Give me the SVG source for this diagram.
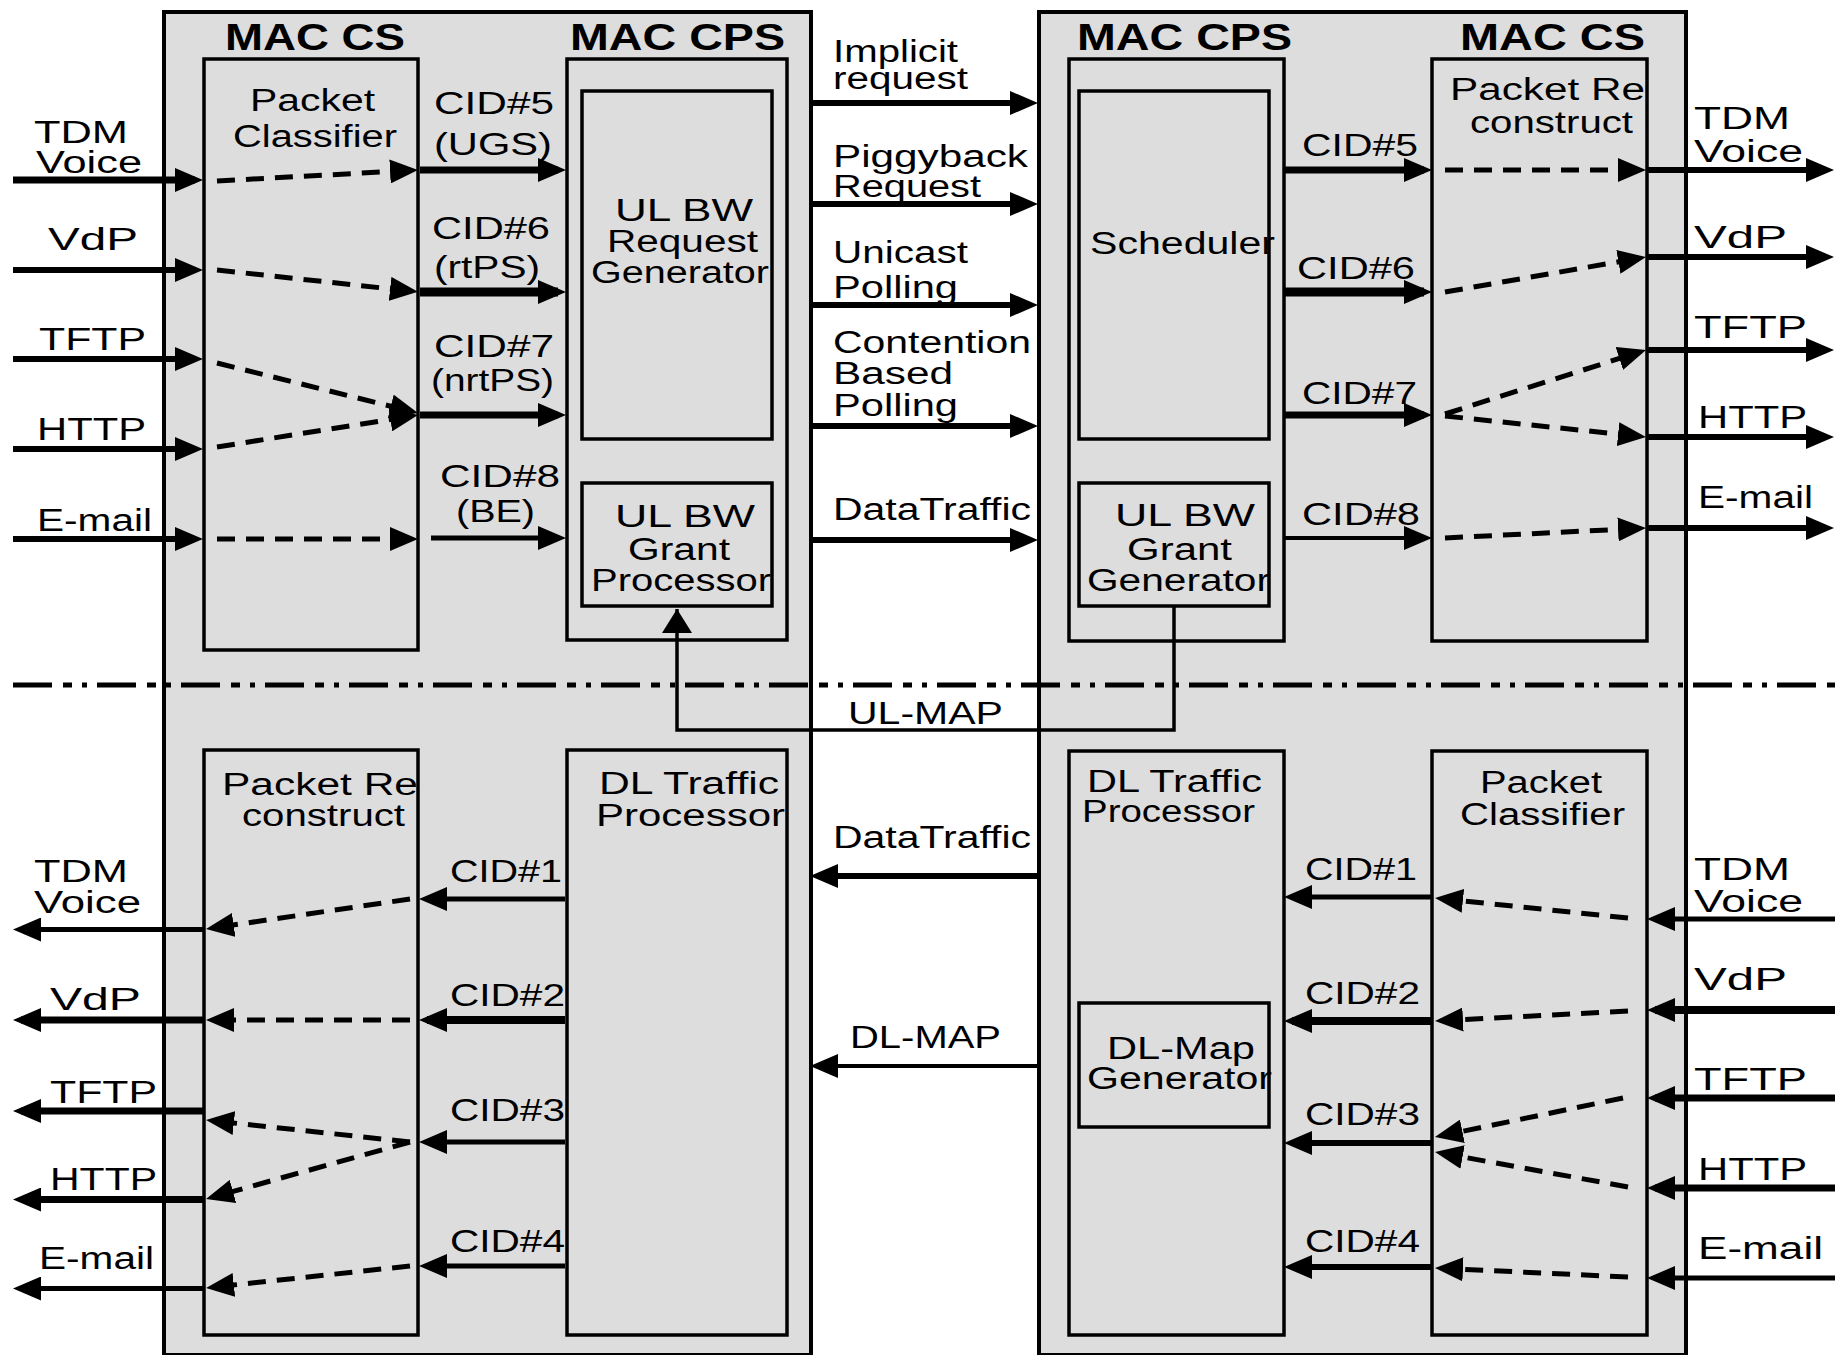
<svg xmlns="http://www.w3.org/2000/svg" width="1835" height="1355" viewBox="0 0 1835 1355">
<defs>
<style>
.box{fill:#dddddd;stroke:#000;stroke-width:3.5}
.outer{fill:#dddddd;stroke:#000;stroke-width:4}
.t{font-family:"Liberation Sans",Arial,sans-serif;font-size:31px;fill:#000}
.h{font-family:"Liberation Sans",Arial,sans-serif;font-size:36px;font-weight:bold;fill:#000}
.s{stroke:#000;fill:none}
.d{stroke:#000;fill:none;stroke-width:5;stroke-dasharray:18 11}
</style>
<marker id="ah" viewBox="0 0 28 24" refX="20" refY="12" markerWidth="28" markerHeight="24" markerUnits="userSpaceOnUse" orient="auto">
<path d="M0,0 L28,12 L0,24 z" fill="#000"/>
</marker>
<marker id="ahu" viewBox="0 0 24 30" refX="24" refY="15" markerWidth="24" markerHeight="30" markerUnits="userSpaceOnUse" orient="auto">
<path d="M0,0 L24,15 L0,30 z" fill="#000"/>
</marker>
</defs>
<rect width="1835" height="1355" fill="#fff"/>

<g id="left-station">
<rect class="outer" x="164" y="12" width="647" height="1343"/>
</g>
<g id="right-station">
<rect class="outer" x="1039" y="12" width="647" height="1343"/>
</g>

<g id="left-mac-cs-title"><text class="h" x="225" y="50" textLength="180" lengthAdjust="spacingAndGlyphs">MAC CS</text></g>
<g id="left-mac-cps-title"><text class="h" x="570" y="50" textLength="215" lengthAdjust="spacingAndGlyphs">MAC CPS</text></g>
<g id="right-mac-cps-title"><text class="h" x="1077" y="50" textLength="215" lengthAdjust="spacingAndGlyphs">MAC CPS</text></g>
<g id="right-mac-cs-title"><text class="h" x="1460" y="50" textLength="185" lengthAdjust="spacingAndGlyphs">MAC CS</text></g>

<g id="left-packet-classifier">
<rect class="box" x="204" y="59" width="214" height="591"/>
<text class="t" x="250" y="111" textLength="125" lengthAdjust="spacingAndGlyphs">Packet</text>
<text class="t" x="233" y="147" textLength="164" lengthAdjust="spacingAndGlyphs">Classifier</text>
</g>
<g id="left-mac-cps">
<rect class="box" x="567" y="59" width="220" height="581"/>
</g>
<g id="ul-bw-request-generator">
<rect class="box" x="582" y="91" width="190" height="348"/>
<text class="t" x="615" y="221" textLength="138" lengthAdjust="spacingAndGlyphs">UL BW</text>
<text class="t" x="607" y="252" textLength="151" lengthAdjust="spacingAndGlyphs">Request</text>
<text class="t" x="591" y="283" textLength="178" lengthAdjust="spacingAndGlyphs">Generator</text>
</g>
<g id="ul-bw-grant-processor">
<rect class="box" x="582" y="483" width="190" height="123"/>
<text class="t" x="615" y="527" textLength="140" lengthAdjust="spacingAndGlyphs">UL BW</text>
<text class="t" x="628" y="560" textLength="102" lengthAdjust="spacingAndGlyphs">Grant</text>
<text class="t" x="591" y="591" textLength="180" lengthAdjust="spacingAndGlyphs">Processor</text>
</g>
<g id="right-mac-cps">
<rect class="box" x="1069" y="59" width="215" height="582"/>
</g>
<g id="scheduler">
<rect class="box" x="1079" y="91" width="190" height="348"/>
<text class="t" x="1090" y="254" textLength="185" lengthAdjust="spacingAndGlyphs">Scheduler</text>
</g>
<g id="ul-bw-grant-generator">
<rect class="box" x="1079" y="483" width="190" height="123"/>
<text class="t" x="1115" y="526" textLength="140" lengthAdjust="spacingAndGlyphs">UL BW</text>
<text class="t" x="1127" y="560" textLength="105" lengthAdjust="spacingAndGlyphs">Grant</text>
<text class="t" x="1087" y="591" textLength="183" lengthAdjust="spacingAndGlyphs">Generator</text>
</g>
<g id="right-packet-reconstruct">
<rect class="box" x="1432" y="59" width="215" height="582"/>
<text class="t" x="1450" y="100" textLength="195" lengthAdjust="spacingAndGlyphs">Packet Re</text>
<text class="t" x="1470" y="133" textLength="163" lengthAdjust="spacingAndGlyphs">construct</text>
</g>

<g id="left-packet-reconstruct">
<rect class="box" x="204" y="750" width="214" height="585"/>
<text class="t" x="222" y="795" textLength="196" lengthAdjust="spacingAndGlyphs">Packet Re</text>
<text class="t" x="242" y="826" textLength="163" lengthAdjust="spacingAndGlyphs">construct</text>
</g>
<g id="left-dl-traffic-processor">
<rect class="box" x="567" y="750" width="220" height="585"/>
<text class="t" x="599" y="794" textLength="180" lengthAdjust="spacingAndGlyphs">DL Traffic</text>
<text class="t" x="596" y="826" textLength="189" lengthAdjust="spacingAndGlyphs">Processor</text>
</g>
<g id="right-dl-traffic-processor">
<rect class="box" x="1069" y="751" width="215" height="584"/>
<text class="t" x="1087" y="792" textLength="175" lengthAdjust="spacingAndGlyphs">DL Traffic</text>
<text class="t" x="1082" y="822" textLength="173" lengthAdjust="spacingAndGlyphs">Processor</text>
</g>
<g id="dl-map-generator">
<rect class="box" x="1079" y="1003" width="190" height="124"/>
<text class="t" x="1107" y="1059" textLength="148" lengthAdjust="spacingAndGlyphs">DL-Map</text>
<text class="t" x="1087" y="1089" textLength="185" lengthAdjust="spacingAndGlyphs">Generator</text>
</g>
<g id="right-packet-classifier">
<rect class="box" x="1432" y="751" width="215" height="584"/>
<text class="t" x="1480" y="793" textLength="122" lengthAdjust="spacingAndGlyphs">Packet</text>
<text class="t" x="1460" y="825" textLength="165" lengthAdjust="spacingAndGlyphs">Classifier</text>
</g>

<g id="connectors">
<line x1="13" y1="685" x2="1835" y2="685" stroke="#000" stroke-width="5" stroke-dasharray="39 11 9 10 5 10"/>
<!-- left top inputs -->
<line class="s" x1="13" y1="180" x2="195" y2="180" stroke-width="7" marker-end="url(#ah)"/>
<line class="s" x1="13" y1="270" x2="195" y2="270" stroke-width="6" marker-end="url(#ah)"/>
<line class="s" x1="13" y1="359" x2="195" y2="359" stroke-width="6" marker-end="url(#ah)"/>
<line class="s" x1="13" y1="449" x2="195" y2="449" stroke-width="6" marker-end="url(#ah)"/>
<line class="s" x1="13" y1="539" x2="195" y2="539" stroke-width="6" marker-end="url(#ah)"/>
<!-- left classifier dashed -->
<line class="d" x1="217" y1="181" x2="410" y2="170.4" marker-end="url(#ah)"/>
<line class="d" x1="217" y1="270" x2="410" y2="291" marker-end="url(#ah)"/>
<line class="d" x1="217" y1="363" x2="410.2" y2="411.1" marker-end="url(#ah)"/>
<line class="d" x1="217" y1="447" x2="410.1" y2="416.3" marker-end="url(#ah)"/>
<line class="d" x1="217" y1="539" x2="410" y2="539" marker-end="url(#ah)"/>
<!-- left CIDs to MAC CPS -->
<line class="s" x1="420" y1="170" x2="558" y2="170" stroke-width="7" marker-end="url(#ah)"/>
<line class="s" x1="420" y1="292" x2="558" y2="292" stroke-width="9" marker-end="url(#ah)"/>
<line class="s" x1="420" y1="415" x2="558" y2="415" stroke-width="7" marker-end="url(#ah)"/>
<line class="s" x1="431" y1="538" x2="558" y2="538" stroke-width="5" marker-end="url(#ah)"/>
<!-- middle uplink -->
<line class="s" x1="812" y1="103" x2="1030" y2="103" stroke-width="6" marker-end="url(#ah)"/>
<line class="s" x1="812" y1="204" x2="1030" y2="204" stroke-width="6" marker-end="url(#ah)"/>
<line class="s" x1="812" y1="305" x2="1030" y2="305" stroke-width="6" marker-end="url(#ah)"/>
<line class="s" x1="812" y1="426" x2="1030" y2="426" stroke-width="6" marker-end="url(#ah)"/>
<line class="s" x1="812" y1="540" x2="1030" y2="540" stroke-width="6" marker-end="url(#ah)"/>
<!-- right CIDs -->
<line class="s" x1="1285" y1="170" x2="1424" y2="170" stroke-width="7" marker-end="url(#ah)"/>
<line class="s" x1="1285" y1="292" x2="1424" y2="292" stroke-width="9" marker-end="url(#ah)"/>
<line class="s" x1="1285" y1="415" x2="1424" y2="415" stroke-width="7" marker-end="url(#ah)"/>
<line class="s" x1="1285" y1="538" x2="1424" y2="538" stroke-width="4" marker-end="url(#ah)"/>
<!-- right reconstruct dashed -->
<line class="d" x1="1445" y1="170" x2="1638" y2="170" marker-end="url(#ah)"/>
<line class="d" x1="1445" y1="292" x2="1638.1" y2="258.4" marker-end="url(#ah)"/>
<line class="d" x1="1445" y1="414" x2="1638.4" y2="352.4" marker-end="url(#ah)"/>
<line class="d" x1="1445" y1="416" x2="1638" y2="436.2" marker-end="url(#ah)"/>
<line class="d" x1="1445" y1="538" x2="1638" y2="528.4" marker-end="url(#ah)"/>
<!-- right top outputs -->
<line class="s" x1="1647" y1="170" x2="1826" y2="170" stroke-width="6" marker-end="url(#ah)"/>
<line class="s" x1="1647" y1="257" x2="1826" y2="257" stroke-width="6" marker-end="url(#ah)"/>
<line class="s" x1="1647" y1="350" x2="1826" y2="350" stroke-width="6" marker-end="url(#ah)"/>
<line class="s" x1="1647" y1="437" x2="1826" y2="437" stroke-width="6" marker-end="url(#ah)"/>
<line class="s" x1="1647" y1="528" x2="1826" y2="528" stroke-width="6" marker-end="url(#ah)"/>
<!-- UL-MAP -->
<polyline class="s" points="1174,606 1174,730 677,730 677,609" stroke-width="3.5" marker-end="url(#ahu)"/>
<!-- left bottom CIDs -->
<line class="s" x1="565" y1="899" x2="427" y2="899" stroke-width="5" marker-end="url(#ah)"/>
<line class="s" x1="565" y1="1020" x2="427" y2="1020" stroke-width="8" marker-end="url(#ah)"/>
<line class="s" x1="565" y1="1142" x2="427" y2="1142" stroke-width="5" marker-end="url(#ah)"/>
<line class="s" x1="565" y1="1266" x2="427" y2="1266" stroke-width="5" marker-end="url(#ah)"/>
<!-- left reconstruct dashed -->
<line class="d" x1="410" y1="899" x2="213.9" y2="927.8" marker-end="url(#ah)"/>
<line class="d" x1="410" y1="1020" x2="214" y2="1020" marker-end="url(#ah)"/>
<line class="d" x1="410" y1="1142" x2="214" y2="1120.9" marker-end="url(#ah)"/>
<line class="d" x1="410" y1="1142" x2="213.7" y2="1196.8" marker-end="url(#ah)"/>
<line class="d" x1="410" y1="1266" x2="214" y2="1287.1" marker-end="url(#ah)"/>
<!-- left bottom outputs -->
<line class="s" x1="203" y1="929.5" x2="21" y2="929.5" stroke-width="5" marker-end="url(#ah)"/>
<line class="s" x1="203" y1="1020" x2="21" y2="1020" stroke-width="7" marker-end="url(#ah)"/>
<line class="s" x1="203" y1="1111" x2="21" y2="1111" stroke-width="7" marker-end="url(#ah)"/>
<line class="s" x1="203" y1="1199.5" x2="21" y2="1199.5" stroke-width="7" marker-end="url(#ah)"/>
<line class="s" x1="203" y1="1288.5" x2="21" y2="1288.5" stroke-width="5" marker-end="url(#ah)"/>
<!-- middle downlink -->
<line class="s" x1="1039" y1="876" x2="818" y2="876" stroke-width="6" marker-end="url(#ah)"/>
<line class="s" x1="1039" y1="1066" x2="818" y2="1066" stroke-width="4" marker-end="url(#ah)"/>
<!-- right bottom inputs -->
<line class="s" x1="1835" y1="919" x2="1655" y2="919" stroke-width="5" marker-end="url(#ah)"/>
<line class="s" x1="1835" y1="1010" x2="1655" y2="1010" stroke-width="8" marker-end="url(#ah)"/>
<line class="s" x1="1835" y1="1098" x2="1655" y2="1098" stroke-width="7" marker-end="url(#ah)"/>
<line class="s" x1="1835" y1="1188" x2="1655" y2="1188" stroke-width="7" marker-end="url(#ah)"/>
<line class="s" x1="1835" y1="1278" x2="1655" y2="1278" stroke-width="5" marker-end="url(#ah)"/>
<!-- right classifier dashed -->
<line class="d" x1="1628" y1="918" x2="1443" y2="898.8" marker-end="url(#ah)"/>
<line class="d" x1="1628" y1="1011" x2="1443" y2="1020.6" marker-end="url(#ah)"/>
<line class="d" x1="1623" y1="1098" x2="1442.8" y2="1135.4" marker-end="url(#ah)"/>
<line class="d" x1="1628" y1="1187" x2="1442.9" y2="1153.4" marker-end="url(#ah)"/>
<line class="d" x1="1628" y1="1277" x2="1443" y2="1268.4" marker-end="url(#ah)"/>
<!-- right bottom CIDs -->
<line class="s" x1="1432" y1="897" x2="1292" y2="897" stroke-width="5" marker-end="url(#ah)"/>
<line class="s" x1="1432" y1="1021" x2="1292" y2="1021" stroke-width="8" marker-end="url(#ah)"/>
<line class="s" x1="1432" y1="1143" x2="1292" y2="1143" stroke-width="6" marker-end="url(#ah)"/>
<line class="s" x1="1432" y1="1267" x2="1292" y2="1267" stroke-width="6" marker-end="url(#ah)"/>
</g>

<g id="labels">
<text class="t" x="34" y="143" textLength="94" lengthAdjust="spacingAndGlyphs">TDM</text>
<text class="t" x="36" y="173" textLength="106" lengthAdjust="spacingAndGlyphs">Voice</text>
<text class="t" x="48" y="250" textLength="90" lengthAdjust="spacingAndGlyphs">VdP</text>
<text class="t" x="39" y="350" textLength="107" lengthAdjust="spacingAndGlyphs">TFTP</text>
<text class="t" x="37" y="440" textLength="109" lengthAdjust="spacingAndGlyphs">HTTP</text>
<text class="t" x="37" y="531" textLength="115" lengthAdjust="spacingAndGlyphs">E-mail</text>
<text class="t" x="434" y="114" textLength="120" lengthAdjust="spacingAndGlyphs">CID#5</text>
<text class="t" x="434" y="155" textLength="118" lengthAdjust="spacingAndGlyphs">(UGS)</text>
<text class="t" x="432" y="239" textLength="118" lengthAdjust="spacingAndGlyphs">CID#6</text>
<text class="t" x="434" y="278" textLength="106" lengthAdjust="spacingAndGlyphs">(rtPS)</text>
<text class="t" x="434" y="357" textLength="120" lengthAdjust="spacingAndGlyphs">CID#7</text>
<text class="t" x="431" y="391" textLength="123" lengthAdjust="spacingAndGlyphs">(nrtPS)</text>
<text class="t" x="440" y="487" textLength="120" lengthAdjust="spacingAndGlyphs">CID#8</text>
<text class="t" x="456" y="522" textLength="79" lengthAdjust="spacingAndGlyphs">(BE)</text>
<text class="t" x="833" y="62" textLength="125" lengthAdjust="spacingAndGlyphs">Implicit</text>
<text class="t" x="833" y="89" textLength="135" lengthAdjust="spacingAndGlyphs">request</text>
<text class="t" x="833" y="167" textLength="195" lengthAdjust="spacingAndGlyphs">Piggyback</text>
<text class="t" x="833" y="197" textLength="148" lengthAdjust="spacingAndGlyphs">Request</text>
<text class="t" x="833" y="263" textLength="135" lengthAdjust="spacingAndGlyphs">Unicast</text>
<text class="t" x="833" y="298" textLength="125" lengthAdjust="spacingAndGlyphs">Polling</text>
<text class="t" x="833" y="353" textLength="198" lengthAdjust="spacingAndGlyphs">Contention</text>
<text class="t" x="833" y="384" textLength="120" lengthAdjust="spacingAndGlyphs">Based</text>
<text class="t" x="833" y="416" textLength="125" lengthAdjust="spacingAndGlyphs">Polling</text>
<text class="t" x="833" y="520" textLength="198" lengthAdjust="spacingAndGlyphs">DataTraffic</text>
<text class="t" x="848" y="724" textLength="155" lengthAdjust="spacingAndGlyphs">UL-MAP</text>
<text class="t" x="833" y="848" textLength="198" lengthAdjust="spacingAndGlyphs">DataTraffic</text>
<text class="t" x="850" y="1048" textLength="151" lengthAdjust="spacingAndGlyphs">DL-MAP</text>
<text class="t" x="1302" y="156" textLength="116" lengthAdjust="spacingAndGlyphs">CID#5</text>
<text class="t" x="1297" y="279" textLength="118" lengthAdjust="spacingAndGlyphs">CID#6</text>
<text class="t" x="1302" y="404" textLength="115" lengthAdjust="spacingAndGlyphs">CID#7</text>
<text class="t" x="1302" y="525" textLength="118" lengthAdjust="spacingAndGlyphs">CID#8</text>
<text class="t" x="1694" y="129" textLength="96" lengthAdjust="spacingAndGlyphs">TDM</text>
<text class="t" x="1694" y="162" textLength="109" lengthAdjust="spacingAndGlyphs">Voice</text>
<text class="t" x="1694" y="248" textLength="93" lengthAdjust="spacingAndGlyphs">VdP</text>
<text class="t" x="1694" y="338" textLength="113" lengthAdjust="spacingAndGlyphs">TFTP</text>
<text class="t" x="1698" y="428" textLength="109" lengthAdjust="spacingAndGlyphs">HTTP</text>
<text class="t" x="1698" y="508" textLength="115" lengthAdjust="spacingAndGlyphs">E-mail</text>
<text class="t" x="450" y="882" textLength="112" lengthAdjust="spacingAndGlyphs">CID#1</text>
<text class="t" x="450" y="1006" textLength="115" lengthAdjust="spacingAndGlyphs">CID#2</text>
<text class="t" x="450" y="1121" textLength="115" lengthAdjust="spacingAndGlyphs">CID#3</text>
<text class="t" x="450" y="1252" textLength="115" lengthAdjust="spacingAndGlyphs">CID#4</text>
<text class="t" x="34" y="882" textLength="94" lengthAdjust="spacingAndGlyphs">TDM</text>
<text class="t" x="34" y="913" textLength="107" lengthAdjust="spacingAndGlyphs">Voice</text>
<text class="t" x="50" y="1010" textLength="91" lengthAdjust="spacingAndGlyphs">VdP</text>
<text class="t" x="50" y="1103" textLength="107" lengthAdjust="spacingAndGlyphs">TFTP</text>
<text class="t" x="50" y="1190" textLength="107" lengthAdjust="spacingAndGlyphs">HTTP</text>
<text class="t" x="39" y="1269" textLength="115" lengthAdjust="spacingAndGlyphs">E-mail</text>
<text class="t" x="1305" y="880" textLength="112" lengthAdjust="spacingAndGlyphs">CID#1</text>
<text class="t" x="1305" y="1004" textLength="115" lengthAdjust="spacingAndGlyphs">CID#2</text>
<text class="t" x="1305" y="1125" textLength="115" lengthAdjust="spacingAndGlyphs">CID#3</text>
<text class="t" x="1305" y="1252" textLength="115" lengthAdjust="spacingAndGlyphs">CID#4</text>
<text class="t" x="1694" y="880" textLength="96" lengthAdjust="spacingAndGlyphs">TDM</text>
<text class="t" x="1694" y="912" textLength="109" lengthAdjust="spacingAndGlyphs">Voice</text>
<text class="t" x="1694" y="990" textLength="93" lengthAdjust="spacingAndGlyphs">VdP</text>
<text class="t" x="1694" y="1090" textLength="113" lengthAdjust="spacingAndGlyphs">TFTP</text>
<text class="t" x="1698" y="1180" textLength="109" lengthAdjust="spacingAndGlyphs">HTTP</text>
<text class="t" x="1698" y="1259" textLength="125" lengthAdjust="spacingAndGlyphs">E-mail</text>
</g>
</svg>
